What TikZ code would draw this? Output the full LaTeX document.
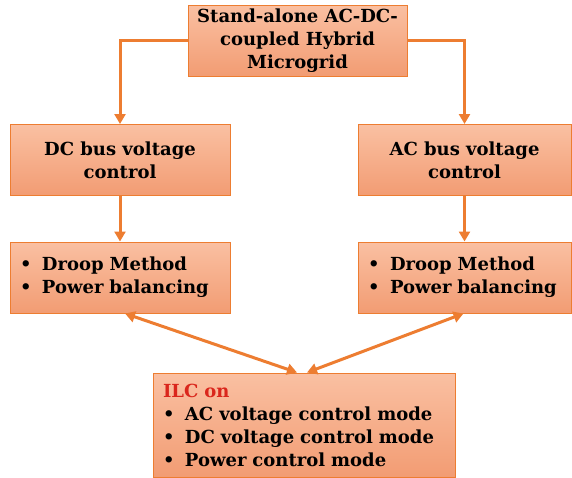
\documentclass[tikz,border=0pt]{standalone}
\usepackage{fontspec}
\setmainfont{DejaVu Serif}
\usetikzlibrary{arrows.meta}
\definecolor{Edge}{RGB}{237,125,49}
\definecolor{Light}{RGB}{250,192,162}
\definecolor{Dark}{RGB}{242,156,115}
\definecolor{Alert}{RGB}{218,38,28}
\newcommand{\itm}[1]{\makebox[22pt][l]{\textbullet}#1}

\begin{document}
\begin{tikzpicture}[x=1pt,y=-1pt,
  block/.style={draw=Edge,line width=1pt,top color=Light,bottom color=Dark,minimum width=220pt,minimum height=71pt,align=center,font=\fontsize{18}{23}\selectfont\bfseries},
  list/.style={block,align=left,text width=200pt,inner xsep=10pt},
  flow/.style={-{Triangle[length=10pt,width=11pt]},line width=3pt,Edge},
  link/.style={{Triangle[length=10pt,width=11pt]}-{Triangle[length=10pt,width=11pt]},line width=3pt,Edge}]
\useasboundingbox (0,0) rectangle (572,477);
\node[block,minimum width=219pt] (grid) at (297.5,40.5) {Stand-alone AC-DC-\\coupled Hybrid\\Microgrid};
\node[block] (dcbus) at (120,160) {DC bus voltage\\control};
\node[block,minimum width=213pt] (acbus) at (464.5,160) {AC bus voltage\\control};
\node[list] (dcdroop) at (120,277.5) {\itm{Droop Method}\\\itm{Power balancing}};
\node[list,minimum width=213pt,text width=193pt] (acdroop) at (464.5,277.5) {\itm{Droop Method}\\\itm{Power balancing}};
\node[list,minimum width=302pt,text width=282pt,minimum height=104pt] (ilc) at (304,425) {\textcolor{Alert}{ILC on}\\\itm{AC voltage control mode}\\\itm{DC voltage control mode}\\\itm{Power control mode}};
% top level split
\draw[flow] (grid.west) -| (dcbus.north);
\draw[flow] (grid.east) -| (acbus.north);
\draw[flow] (dcbus) -- (dcdroop);
\draw[flow] (acbus) -- (acdroop);
% interlinking converter
\draw[link] ([xshift=5pt]dcdroop.south) -- ([xshift=-7pt]ilc.north);
\draw[link] ([xshift=-1pt]acdroop.south) -- ([xshift=3pt]ilc.north);
\end{tikzpicture}
\end{document}
